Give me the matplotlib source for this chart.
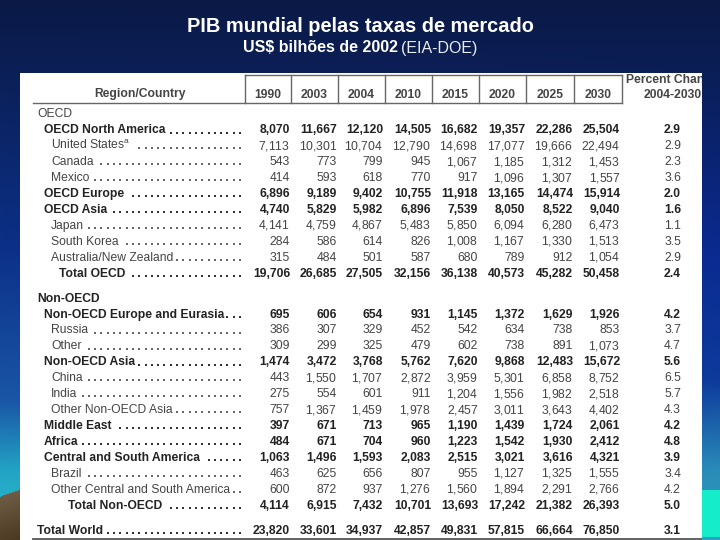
import numpy as np
import matplotlib.pyplot as plt
from matplotlib.colors import to_rgb

plt.rcParams['font.family'] = 'Liberation Sans'
plt.rcParams['mathtext.fontset'] = 'custom'
plt.rcParams['mathtext.rm'] = 'Liberation Sans'

# table data (billion 2002 US$, EIA-DOE)
years = ['1990', '2003', '2004', '2010', '2015', '2020', '2025', '2030']
labels = ['OECD', 'OECD North America', 'United States$^{\\mathrm{a}}$', 'Canada', 'Mexico',
          'OECD Europe', 'OECD Asia', 'Japan', 'South Korea', 'Australia/New Zealand',
          'Total OECD', 'Non-OECD', 'Non-OECD Europe and Eurasia', 'Russia', 'Other',
          'Non-OECD Asia', 'China', 'India', 'Other Non-OECD Asia', 'Middle East', 'Africa',
          'Central and South America', 'Brazil', 'Other Central and South America',
          'Total Non-OECD', 'Total World']
kinds = ['section', 'region', 'country', 'country', 'country', 'region', 'region',
         'country', 'country', 'country', 'total', 'section2', 'region', 'country',
         'country', 'region', 'country', 'country', 'country', 'region', 'region',
         'region', 'country', 'country', 'total2', 'world']

v1990 = [None, 8070, 7113, 543, 414, 6896, 4740, 4141, 284, 315, 19706, None, 695, 386, 309,
         1474, 443, 275, 757, 397, 484, 1063, 463, 600, 4114, 23820]
v2003 = [None, 11667, 10301, 773, 593, 9189, 5829, 4759, 586, 484, 26685, None, 606, 307, 299,
         3472, 1550, 554, 1367, 671, 671, 1496, 625, 872, 6915, 33601]
v2004 = [None, 12120, 10704, 799, 618, 9402, 5982, 4867, 614, 501, 27505, None, 654, 329, 325,
         3768, 1707, 601, 1459, 713, 704, 1593, 656, 937, 7432, 34937]
v2010 = [None, 14505, 12790, 945, 770, 10755, 6896, 5483, 826, 587, 32156, None, 931, 452, 479,
         5762, 2872, 911, 1978, 965, 960, 2083, 807, 1276, 10701, 42857]
v2015 = [None, 16682, 14698, 1067, 917, 11918, 7539, 5850, 1008, 680, 36138, None, 1145, 542, 602,
         7620, 3959, 1204, 2457, 1190, 1223, 2515, 955, 1560, 13693, 49831]
v2020 = [None, 19357, 17077, 1185, 1096, 13165, 8050, 6094, 1167, 789, 40573, None, 1372, 634, 738,
         9868, 5301, 1556, 3011, 1439, 1542, 3021, 1127, 1894, 17242, 57815]
v2025 = [None, 22286, 19666, 1312, 1307, 14474, 8522, 6280, 1330, 912, 45282, None, 1629, 738, 891,
         12483, 6858, 1982, 3643, 1724, 1930, 3616, 1325, 2291, 21382, 66664]
v2030 = [None, 25504, 22494, 1453, 1557, 15914, 9040, 6473, 1513, 1054, 50458, None, 1926, 853, 1073,
         15672, 8752, 2518, 4402, 2061, 2412, 4321, 1555, 2766, 26393, 76850]
pct = [None, 2.9, 2.9, 2.3, 3.6, 2.0, 1.6, 1.1, 3.5, 2.9, 2.4, None, 4.2, 3.7, 4.7,
       5.6, 6.5, 5.7, 4.3, 4.2, 4.8, 3.9, 3.4, 4.2, 5.0, 3.1]
columns = [v1990, v2003, v2004, v2010, v2015, v2020, v2025, v2030]

# layout / style
indent = {'section': 37, 'section2': 37, 'region': 44, 'country': 51,
          'total': 59, 'total2': 68, 'world': 37}
bold_kinds = {'section2', 'region', 'total', 'total2', 'world'}
col_right = [290, 337, 383, 431, 478, 525, 573, 620]
vlines = [245, 291, 338, 385, 432, 479, 526, 574, 622]
pct_right = 681
FS = 8.7


def ramp(stops, n):
    ys = [s[0] for s in stops]
    cols = np.array([to_rgb(s[1]) for s in stops])
    yy = np.arange(n)
    return np.stack([np.interp(yy, ys, cols[:, k]) for k in range(3)], axis=1)


def fmt(v, bold):
    s = f'{v:,}'
    if bold or ',' not in s:
        return s
    # regular weight: mathtext keeps the comma from shifting the baseline
    return '$\\mathrm{' + s.replace(',', '{,}') + '}$'


fig = plt.figure(figsize=(7.2, 5.4), dpi=100)

# slide background
bg = fig.add_axes([0, 0, 1, 1])
left = ramp([(0, '#0a1946'), (70, '#0c1f56'), (250, '#0c3088'), (400, '#1a56a6'),
             (470, '#22a4c4'), (540, '#2cc2d2')], 540)
right = ramp([(0, '#0a1946'), (70, '#0b1e56'), (250, '#0a2a90'), (380, '#0e3a9c'),
              (470, '#2a8cb8'), (540, '#30a0c0')], 540)
xx = np.linspace(0, 1, 720)
img = left[:, None, :] * (1 - xx)[None, :, None] + right[:, None, :] * xx[None, :, None]
img[490:537, 702:] = to_rgb('#14ecca')
brown = ramp([(0, '#6e5c44'), (50, '#4a3820')], 60)
for x in range(20):
    b = int(497 - x * 0.35)
    img[b:, x] = brown[:540 - b]
bg.imshow(img, extent=(0, 720, 540, 0), aspect='auto')
bg.set_xlim(0, 720)
bg.set_ylim(540, 0)
bg.axis('off')

bg.text(360, 27, 'PIB mundial pelas taxas de mercado', color='white', fontsize=14.4,
        fontweight='bold', ha='center', va='center')
bg.text(398, 48, 'US$ bilhões de 2002', color='white', fontsize=11.5,
        fontweight='bold', ha='right', va='center')
bg.text(401, 48, '(EIA-DOE)', color='#e8ecf4', fontsize=11.5, ha='left', va='center')

# table panel
tab = fig.add_axes([20 / 720, 0, 682 / 720, 467 / 540])
tab.set_xlim(20, 702)
tab.set_ylim(540, 73)
tab.set_facecolor('white')
for s in tab.spines.values():
    s.set_visible(False)
tab.set_xticks([])
tab.set_yticks([])

hdr_col = '#444444'
tab.plot([vlines[0], vlines[-1]], [74.5, 74.5], color='#666666', lw=1.0)
tab.plot([33, vlines[-1]], [103, 103], color='#666666', lw=1.0)
for x in vlines:
    tab.plot([x, x], [74.5, 103], color='#666666', lw=1.0)
tab.text(140, 94.5, 'Region/Country', fontsize=FS, fontweight='bold', color=hdr_col,
         ha='center', va='center')
for i, yr in enumerate(years):
    tab.text((vlines[i] + vlines[i + 1]) / 2, 94.5, yr, fontsize=FS, fontweight='bold',
             color=hdr_col, ha='center', va='center')
tab.text(626, 80, 'Percent Change', fontsize=FS, fontweight='bold', color=hdr_col,
         ha='left', va='center', clip_on=True)
tab.text(702, 94.5, '2004-2030', fontsize=FS, fontweight='bold', color=hdr_col,
         ha='right', va='center', clip_on=True)

renderer = fig.canvas.get_renderer()
inv = tab.transData.inverted()
dot_x = 240 - 6.3 * np.arange(32)

for i, (lab, kind) in enumerate(zip(labels, kinds)):
    y = 113 + i * 15.93 + (9 if i >= 11 else 0) + (9 if i >= 25 else 0)
    yb = y + 4.4
    bold = kind in bold_kinds
    w = 'bold' if bold else 'normal'
    c = '#222222' if bold else '#444444'
    t = tab.text(indent[kind], yb, lab, fontsize=FS, fontweight=w, color=c,
                 ha='left', va='baseline')
    if v1990[i] is None:
        continue
    bb = t.get_window_extent(renderer=renderer)
    x_end = inv.transform((bb.x1, bb.y0))[0]
    xs = dot_x[dot_x > x_end + 3]
    tab.scatter(xs, np.full(len(xs), yb - 0.8), s=1.0, marker='s',
                color='#333333' if bold else '#666666', linewidths=0)
    for col, xr in zip(columns, col_right):
        tab.text(xr, yb, fmt(col[i], bold), fontsize=FS, fontweight=w, color=c,
                 ha='right', va='baseline')
    tab.text(pct_right, yb, f'{pct[i]:.1f}', fontsize=FS, fontweight=w, color=c,
             ha='right', va='baseline')

tab.plot([33, 702], [538.5, 538.5], color='#555555', lw=1.3)

fig.savefig('out.png', dpi=100)
